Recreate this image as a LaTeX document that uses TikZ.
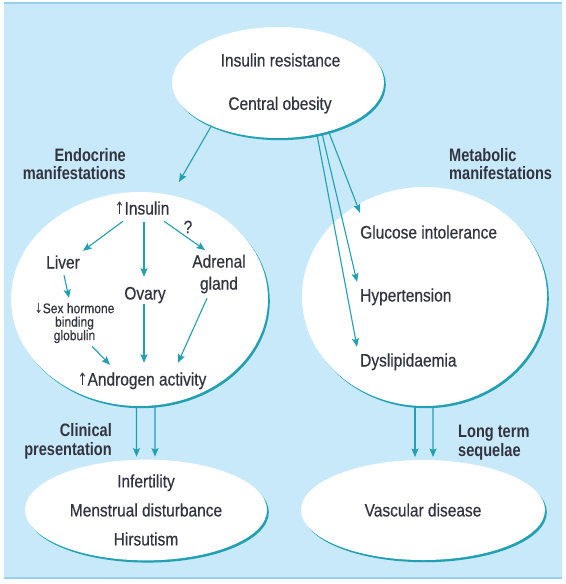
\documentclass[tikz,border=0pt]{standalone}
\usepackage{fontspec}
\setmainfont{Liberation Sans}[FakeStretch=0.86,FakeBold=0.5]
\newfontfamily\labfont{Liberation Sans}[FakeStretch=0.81]
\newfontfamily\arrfont{DejaVu Sans}[FakeStretch=0.7]
\usetikzlibrary{arrows.meta,shapes.geometric,shadows,calc}
\definecolor{bgblue}{RGB}{200,233,249}
\definecolor{rimblue}{RGB}{150,208,238}
\definecolor{tealc}{RGB}{32,160,178}
\definecolor{txt}{RGB}{52,52,64}
\newcommand{\uparr}{{\arrfont\fontsize{17bp}{17bp}\selectfont ↑}}
\newcommand{\dnarr}{{\arrfont\fontsize{14bp}{14bp}\selectfont ↓}}
\begin{document}
\begin{tikzpicture}[x=1bp,y=-1bp,
  ell/.style={ellipse, fill=white, inner sep=0pt, outer sep=0pt,
    drop shadow={shadow xshift=1.8bp, shadow yshift=-2.2bp, fill=tealc, opacity=1}},
  lbl/.style={inner sep=0pt, text=txt, font=\fontsize{18bp}{22bp}\selectfont,
    text height=12.5bp, text depth=3.5bp},
  mlbl/.style={inner sep=0pt, text=txt, font=\fontsize{18bp}{22bp}\selectfont},
  small/.style={inner sep=0pt, text=txt, font=\fontsize{14bp}{13.5bp}\selectfont},
  head/.style={inner sep=0pt, text=txt, font=\labfont\bfseries\fontsize{18bp}{18bp}\selectfont},
  headb/.style={inner sep=0pt, text=txt, font=\labfont\bfseries\fontsize{18bp}{19bp}\selectfont},
  arr/.style={draw=tealc, line width=1.1bp, -{Stealth[length=8.5bp,width=7bp,inset=1.5bp]}},
]
\useasboundingbox (0,0) rectangle (566,584);
\fill[bgblue] (4,3) rectangle (562,579);
\fill[rimblue] (4,2.5) rectangle (562,4.5);
\fill[rimblue] (4,577) rectangle (562,579);

% ellipses
\node[ell, minimum width=212bp, minimum height=111bp] (tel) at (278,82.5) {};
\node[ell, minimum width=257bp, minimum height=214bp] (lel) at (139.5,299) {};
\node[ell, minimum width=245bp, minimum height=219bp] (rel) at (424.5,296.5) {};
\node[ell, minimum width=242bp, minimum height=100bp, text=txt, align=center,
  font=\fontsize{18bp}{29bp}\selectfont] (bll) at (146,510)
  {Infertility\\Menstrual disturbance\\Hirsutism};
\node[ell, minimum width=244bp, minimum height=100bp, text=txt,
  font=\fontsize{18bp}{22bp}\selectfont] (brl) at (423,510) {Vascular disease};

% top texts
\node[lbl] (ir) at (280.5,62) {Insulin resistance};
\node[lbl] (co) at (280,105.3) {Central obesity};

% headings
\node[head, align=right, anchor=north east] (endo) at (126,148.4) {Endocrine\\manifestations};
\node[head, align=left, anchor=north west] (meta) at (449,148.4) {Metabolic\\manifestations};
\node[headb, align=right, anchor=north east] (clin) at (112,423.4) {Clinical\\presentation};
\node[headb, align=left, anchor=north west] (lt) at (458,425.4) {Long term\\sequelae};

% right ellipse texts
\node[lbl, anchor=west] (glu) at (360,234) {Glucose intolerance};
\node[lbl, anchor=west] (hyp) at (360,297) {Hypertension};
\node[lbl, anchor=west] (dys) at (360,362) {Dyslipidaemia};

% left ellipse texts
\node[lbl] (ins) at (142,210) {\uparr Insulin};
\node[lbl] (qm) at (188,228.7) {?};
\node[lbl] (liv) at (63,264) {Liver};
\node[lbl] (ova) at (145,295) {Ovary};
\node[mlbl, align=center, anchor=north] (adr) at (219,254.4) {Adrenal\\gland};
\node[small, align=center, anchor=north] (shbg) at (74.5,302.8) {\dnarr Sex hormone\\binding\\globulin};
\node[lbl] (andr) at (142,381) {\uparr Androgen activity};

% arrows from top ellipse
\draw[arr] (tel.213) -- ($(lel.north)+(39.5,-10)$);
\draw[arr] (tel.-44) -- ($(glu.north west)+(0,-13)$);
\draw[arr] (tel.-49) -- ($(hyp.north west)+(-3,-7)$);
\draw[arr] (tel.-53) -- ($(dys.north west)+(-3,-7)$);

% arrows inside left ellipse
\draw[arr] ($(ins.south)+(-19,3)$) -- ($(liv.north)+(20,-5)$);
\draw[arr] ($(ins.south)+(2,4)$) -- ($(ova.north)+(-1,-10)$);
\draw[arr] ($(ins.south)+(22,3)$) -- ($(adr.north)+(-14,-4.4)$);
\draw[arr] ($(liv.south)+(1,3)$) -- ($(shbg.north)+(-5.5,-4.8)$);
\draw[arr] ($(shbg.south)+(17.5,3)$) -- ($(andr.north)+(-32,-8)$);
\draw[arr] ($(ova.south)+(-1,1)$) -- ($(andr.north)+(2,-10)$);
\draw[arr] ($(adr.south)+(-12,4.7)$) -- ($(andr.north)+(36,-10)$);

% double arrows down
\draw[arr] ($(lel.south)+(-3,0)$) -- ($(bll.north)+(-9.5,-3)$);
\draw[arr] ($(lel.south)+(15.5,0)$) -- ($(bll.north)+(9,-3)$);
\draw[arr] ($(rel.south)+(-9.5,0)$) -- ($(brl.north)+(-8,-3)$);
\draw[arr] ($(rel.south)+(8.5,0)$) -- ($(brl.north)+(10,-3)$);
\end{tikzpicture}
\end{document}
